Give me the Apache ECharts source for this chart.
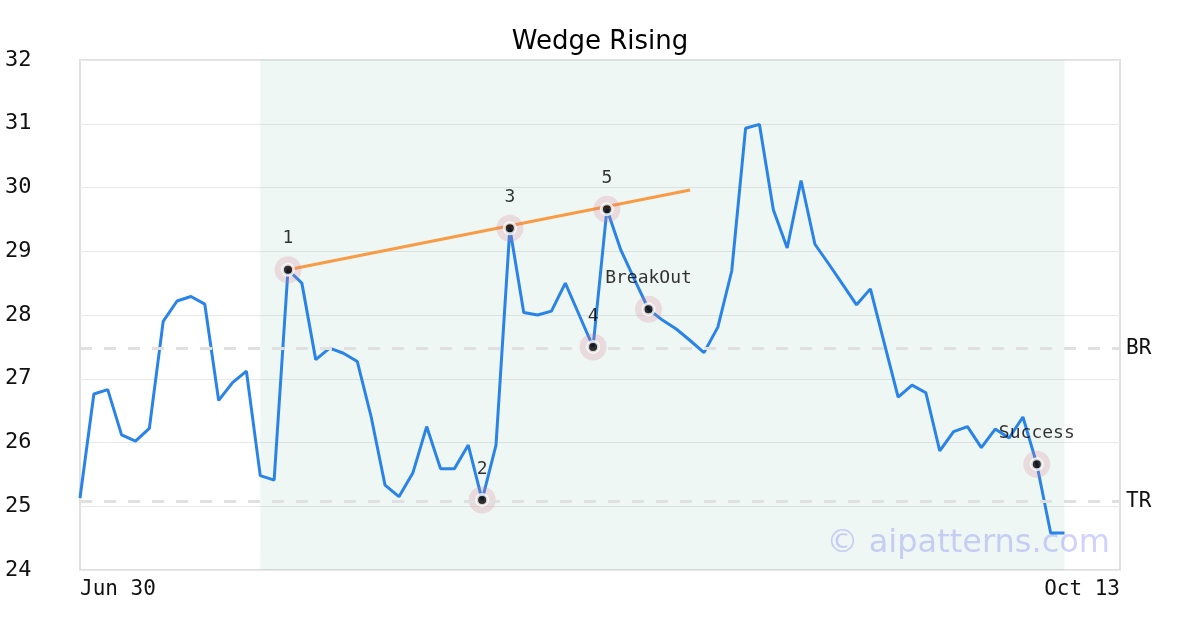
<!DOCTYPE html>
<html><head><meta charset="utf-8">
<script src="https://cdn.jsdelivr.net/npm/echarts@6/dist/echarts.min.js"></script>
<style>html,body{margin:0;padding:0;background:#fff}#c{width:1200px;height:630px}</style>
</head><body><div id="c"></div>
<script>
const dates = [
 "Jun 30",
 "Jul 3","Jul 4","Jul 5","Jul 6","Jul 7","Jul 10","Jul 11","Jul 12","Jul 13","Jul 14","Jul 17","Jul 18","Jul 19","Jul 20","Jul 21","Jul 24","Jul 25","Jul 26","Jul 27","Jul 28","Jul 31",
 "Aug 1","Aug 2","Aug 3","Aug 4","Aug 7","Aug 8","Aug 9","Aug 10","Aug 11","Aug 14","Aug 15","Aug 16","Aug 17","Aug 18","Aug 21","Aug 22","Aug 23","Aug 24","Aug 25","Aug 28","Aug 29","Aug 30","Aug 31",
 "Sep 1","Sep 4","Sep 5","Sep 6","Sep 7","Sep 8","Sep 11","Sep 12","Sep 13","Sep 14","Sep 15","Sep 18","Sep 19","Sep 20","Sep 21","Sep 22","Sep 25","Sep 26","Sep 27","Sep 28","Sep 29",
 "Oct 2","Oct 3","Oct 4","Oct 5","Oct 6","Oct 9","Oct 10","Oct 11","Oct 12","Oct 13"
];
const price = [
 25.13, 26.76, 26.83, 26.12, 26.02, 26.22, 27.90, 28.22, 28.29, 28.17,
 26.66, 26.94, 27.12, 25.48, 25.41, 28.71, 28.50, 27.30, 27.48, 27.40,
 27.27, 26.40, 25.33, 25.15, 25.52, 26.25, 25.59, 25.59, 25.96, 25.10,
 25.96, 29.36, 28.04, 28.00, 28.06, 28.50, 28.00, 27.50, 29.66, 29.02,
 28.55, 28.09, 27.92, 27.78, 27.60, 27.41, 27.81, 28.69, 30.93, 30.99,
 29.65, 29.05, 30.11, 29.11, 28.80, 28.48, 28.16, 28.41, 27.56, 26.71,
 26.90, 26.78, 25.87, 26.17, 26.25, 25.92, 26.21, 26.07, 26.40, 25.66,
 24.58, 24.58
];
const pointNames = ["1", "2", "3", "4", "5", "BreakOut", "Success"];
const pointIdx   = [15, 29, 31, 37, 38, 41, 69];
const wedgeIdx   = [15, 44];
const wedgeVals  = [28.71, 29.96];
const levelNames = ["BR", "TR"];
const levelVals  = [27.48, 25.08];
const shadeRange = [13, 71];
const yTicks = {min: 24, max: 32, interval: 1};

const mono = "DejaVu Sans Mono";
const wedgeData = dates.map(() => null);
wedgeIdx.forEach((ix, k) => { wedgeData[ix] = wedgeVals[k]; });
const pts = pointIdx.map((ix, k) => ({value: [ix, price[ix]], name: pointNames[k]}));

const chart = echarts.init(document.getElementById('c'), null, {renderer: 'canvas'});
chart.setOption({
  animation: false,
  backgroundColor: '#fff',
  title: {text: 'Wedge Rising', left: 'center', top: 24, textStyle: {fontFamily: 'DejaVu Sans', fontSize: 26, fontWeight: 'normal', color: '#000'}},
  grid: {left: 80, right: 80, top: 60, bottom: 60, show: true, borderColor: '#e0e0e0', borderWidth: 2, backgroundColor: 'transparent'},
  xAxis: {
    type: 'category', data: dates, boundaryGap: false,
    axisLine: {show: false}, axisTick: {show: false}, splitLine: {show: false},
    axisLabel: {
      interval: (i) => i === 0 || i === dates.length - 1,
      fontFamily: mono, fontSize: 21, color: '#111', margin: 9,
      alignMinLabel: 'left', alignMaxLabel: 'right'
    }
  },
  yAxis: {
    type: 'value', min: yTicks.min, max: yTicks.max, interval: yTicks.interval,
    axisLine: {show: false}, axisTick: {show: false},
    splitLine: {lineStyle: {color: '#e8e8e8', width: 1}},
    axisLabel: {fontFamily: mono, fontSize: 22, color: '#111', margin: 75, align: 'left', padding: [12, 0, 0, 0]}
  },
  graphic: [{
    type: 'text', right: 90, top: 528, z: -1, silent: true,
    style: {text: '© aipatterns.com', fontFamily: 'DejaVu Sans', fontSize: 32, fill: 'rgba(70,70,255,0.25)'}
  }],
  series: [
    {
      type: 'line', data: price, symbol: 'none', z: 2,
      lineStyle: {color: '#2a84e8', width: 3},
      markArea: {silent: true, itemStyle: {color: 'rgba(95,175,145,0.1)'},
        data: [[{xAxis: shadeRange[0]}, {xAxis: shadeRange[1]}]]},
      markLine: {silent: true, symbol: 'none',
        lineStyle: {color: '#e0e0e0', width: 3, type: [12, 12]},
        label: {position: 'end', fontFamily: mono, fontSize: 21, color: '#111', distance: 6, formatter: (p) => p.name},
        data: levelVals.map((v, k) => ({yAxis: v, name: levelNames[k]}))}
    },
    {
      type: 'line', data: wedgeData, connectNulls: true, symbol: 'none', z: 3,
      lineStyle: {color: '#f99b45', width: 3}
    },
    {
      type: 'scatter', data: pts, symbolSize: 27, z: 4,
      itemStyle: {color: 'rgba(215,120,145,0.28)'}
    },
    {
      type: 'scatter', data: pts, symbolSize: 11, z: 5,
      itemStyle: {color: '#000', borderColor: '#fff', borderWidth: 3},
      label: {show: true, position: 'top', distance: 15, formatter: (p) => p.name,
        fontFamily: mono, fontSize: 18, color: '#000'}
    }
  ]
});
</script></body></html>
